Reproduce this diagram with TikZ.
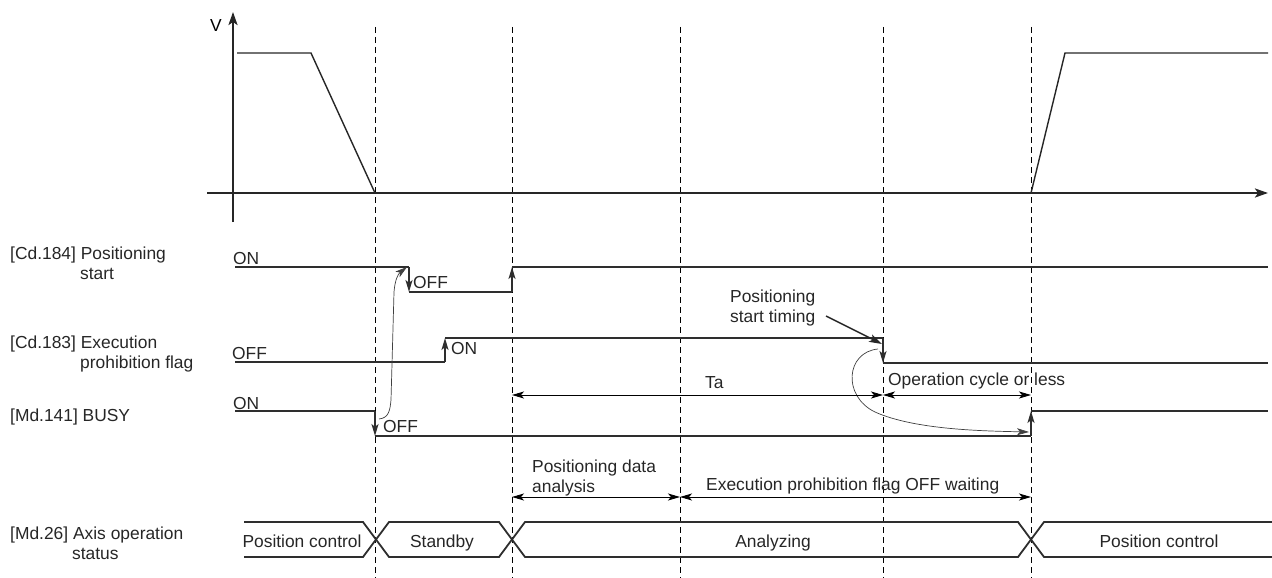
\documentclass[tikz,border=0pt]{standalone}
\usepackage{fontspec}
\setmainfont{Liberation Sans}
\usetikzlibrary{arrows.meta}
\begin{document}
\begin{tikzpicture}[x=1pt,y=-1pt,
  font=\fontsize{17.4}{20}\selectfont,
  sig/.style={line width=1.8pt, draw=black!82},
  edgetip/.style={-{Stealth[length=12pt,width=7pt,inset=3pt]}},
  guide/.style={dash pattern=on 6pt off 4pt, line width=0.9pt},
  dim/.style={{Stealth[length=12pt,width=7pt,inset=3pt]}-{Stealth[length=12pt,width=7pt,inset=3pt]}, line width=0.9pt},
  thin/.style={line width=0.7pt, draw=black!75},
  lbl/.style={anchor=base west, inner sep=0pt, text=black!85},
  clbl/.style={anchor=base, inner sep=0pt, text=black!85},
  axis/.style={line width=2.2pt, draw=black!85}]
\useasboundingbox (0,0) rectangle (1272,578);

% guide lines
\foreach \gx in {375,512,680,883,1031}
  \draw[guide] (\gx,27) -- (\gx,578);

% axes
\draw[axis, -{Stealth[length=13pt,width=9pt,inset=3pt]}] (207,193) -- (1268,193);
\draw[axis, -{Stealth[length=13pt,width=9pt,inset=3pt]}] (233,222) -- (233,12);
\node[anchor=center, inner sep=0pt] (V) at (216,26) {V};

% velocity
\draw[line width=1.4pt, black!85] (237,53) -- (311,53) -- (375,193);
\draw[line width=1.4pt, black!85] (1031,193) -- (1065,53) -- (1268,53);

% left labels
\node[lbl] (l1a) at (10,259) {[Cd.184] Positioning};
\node[lbl] (l1b) at (80,279) {start};
\node[lbl] (l2a) at (10,348) {[Cd.183] Execution};
\node[lbl] (l2b) at (80,368) {prohibition flag};
\node[lbl] (l3) at (10,421) {[Md.141] BUSY};
\node[lbl] (l4a) at (10,539) {[Md.26] Axis operation};
\node[lbl] (l4b) at (72,559) {status};

% Cd.184 positioning start
\coordinate (a1) at (409,267);
\coordinate (a2) at (409,292);
\coordinate (a3) at (512,292);
\coordinate (a4) at (512,267);
\draw[sig] (235,267) -- (a1);
\draw[sig, edgetip] (a1) -- (a2);
\draw[sig] (a2) -- (a3);
\draw[sig, edgetip] (a3) -- (a4);
\draw[sig] (a4) -- (1268,267);
\node[lbl] (on1) at (233,264) {ON};
\node[lbl] (off1) at (413,288) {OFF};

% Cd.183 execution prohibition flag
\coordinate (b1) at (445,362);
\coordinate (b2) at (445,338);
\coordinate (b3) at (883,338);
\coordinate (b4) at (883,363);
\draw[sig] (235,362) -- (b1);
\draw[sig, edgetip] (b1) -- (b2);
\draw[sig] (b2) -- (b3);
\draw[sig, edgetip] (b3) -- (b4);
\draw[sig] (b4) -- (1268,363);
\node[lbl] (off2) at (232,359) {OFF};
\node[lbl] (on2) at (451,354) {ON};

% BUSY
\coordinate (c1) at (375,411);
\coordinate (c2) at (375,436);
\coordinate (c3) at (1031,436);
\coordinate (c4) at (1031,411);
\draw[sig] (235,411) -- (c1);
\draw[sig, edgetip] (c1) -- (c2);
\draw[sig] (c2) -- (c3);
\draw[sig, edgetip] (c3) -- (c4);
\draw[sig] (c4) -- (1268,411);
\node[lbl] (on3) at (233,409) {ON};
\node[lbl] (off3) at (383,432) {OFF};

% curved cause arrows
\draw[thin, -{Stealth[length=12pt,width=7pt,inset=3pt]}] (379,419) .. controls (389,418) and (390,410) .. (391,400)
  -- (394,292) .. controls (395,280) and (398,274) .. (407,267);
\draw[thin, -{Stealth[length=12pt,width=7pt,inset=3pt]}] (878,349) .. controls (846,352) and (842,396) .. (875,412)
  .. controls (915,430) and (985,431) .. (1029,432);

% positioning start timing
\node[lbl] (pst1) at (730,302) {Positioning};
\node[lbl] (pst2) at (730,322) {start timing};
\draw[line width=1.4pt, black!85, -{Stealth[length=13pt,width=8pt,inset=3pt]}] (826,316) -- (882,344);

% Ta / operation cycle
\coordinate (d1) at (512,395);
\coordinate (d2) at (883,395);
\coordinate (d3) at (1031,395);
\draw[dim] (d1) -- (d2);
\draw[dim] (d2) -- (d3);
\node[lbl] (ta) at (705,388) {Ta};
\node[lbl] (opc) at (888,385) {Operation cycle or less};

% analysis durations
\coordinate (e1) at (512,497);
\coordinate (e2) at (680,497);
\coordinate (e3) at (1031,497);
\draw[dim] (e1) -- (e2);
\draw[dim] (e2) -- (e3);
\node[lbl] (pda1) at (532,472) {Positioning data};
\node[lbl] (pda2) at (532,492) {analysis};
\node[lbl] (epw) at (706,490) {Execution prohibition flag OFF waiting};

% axis operation status bus
\draw[sig] (244,522) -- (363,522) -- (389,557) -- (499,557) -- (525,522) -- (1018,522) -- (1044,557) -- (1272,557);
\draw[sig] (244,557) -- (363,557) -- (389,522) -- (499,522) -- (525,557) -- (1018,557) -- (1044,522) -- (1272,522);
\node[clbl] (s1) at (302,547) {Position control};
\node[clbl] (s2) at (442,547) {Standby};
\node[clbl] (s3) at (773,547) {Analyzing};
\node[clbl] (s4) at (1159,547) {Position control};
\end{tikzpicture}
\end{document}
